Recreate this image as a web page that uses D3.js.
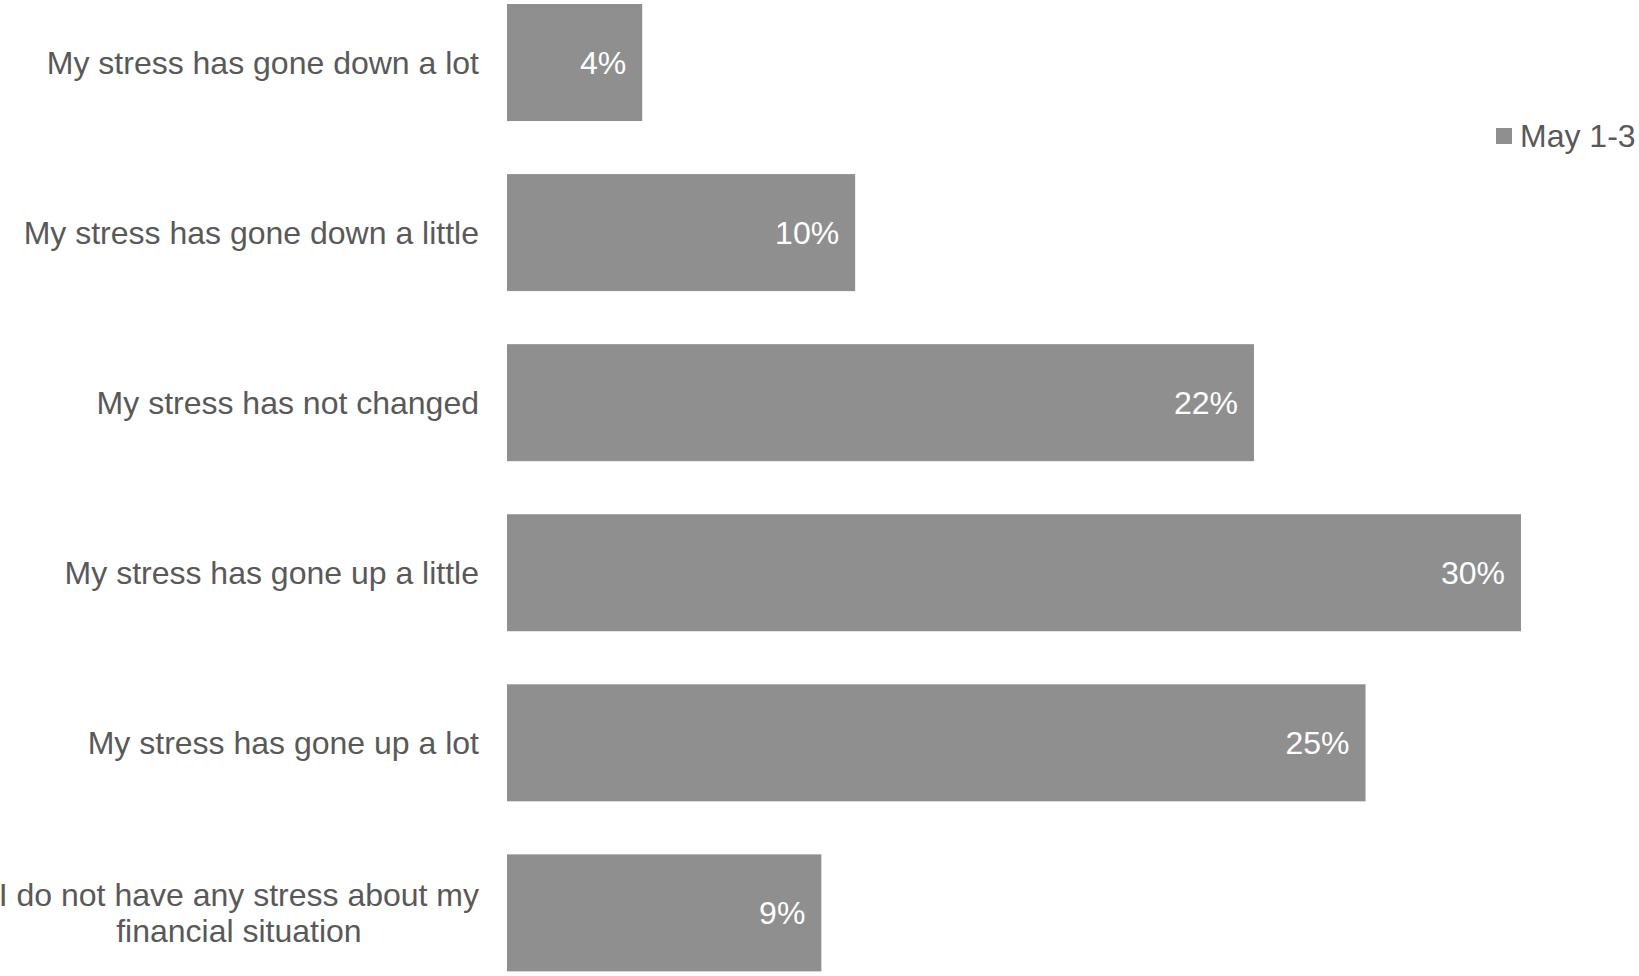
<!DOCTYPE html>
<html>
<head>
<meta charset="utf-8">
<script src="https://cdn.jsdelivr.net/npm/d3@7"></script>
<style>
  html, body { margin: 0; padding: 0; background: #ffffff; }
  svg { display: block; }
  text { font-family: "Liberation Sans", Arial, Helvetica, sans-serif; }
</style>
</head>
<body>
<svg id="chart" width="1639" height="976"></svg>
<script>
// ---- data ----
const categories = [
  "My stress has gone down a lot",
  "My stress has gone down a little",
  "My stress has not changed",
  "My stress has gone up a little",
  "My stress has gone up a lot",
  "I do not have any stress about my financial situation"
];
const categoryLines = [
  ["My stress has gone down a lot"],
  ["My stress has gone down a little"],
  ["My stress has not changed"],
  ["My stress has gone up a little"],
  ["My stress has gone up a lot"],
  ["I do not have any stress about my", "financial situation"]
];
const values = [0.040, 0.103, 0.221, 0.300, 0.254, 0.093];
const seriesName = "May 1-3";

// ---- layout ----
const svg = d3.select("#chart");
const barColor = "#8f8f8f";
const textColor = "#595959";
const fontSize = 32;

const x = d3.scaleLinear().domain([0, 0.30]).range([507, 1521]);
const y = d3.scaleBand()
  .domain(categories)
  .range([-22.5, 997.9])
  .paddingInner(0.312)
  .paddingOuter(0.156);

const fmt = d3.format(".0%");
const data = categories.map((c, i) => ({ c, v: values[i], lines: categoryLines[i] }));

// bars
svg.append("g").selectAll("rect")
  .data(data)
  .join("rect")
  .attr("x", x(0))
  .attr("y", d => y(d.c))
  .attr("width", d => x(d.v) - x(0))
  .attr("height", y.bandwidth())
  .attr("fill", barColor);

// value labels
svg.append("g").selectAll("text")
  .data(data)
  .join("text")
  .attr("x", d => x(d.v) - 16)
  .attr("y", d => y(d.c) + y.bandwidth() / 2 + fontSize * 0.358)
  .attr("text-anchor", "end")
  .attr("fill", "#ffffff")
  .attr("font-size", fontSize)
  .text(d => fmt(d.v));

// category labels (right-aligned block, lines centered within block)
const catG = svg.append("g");
data.forEach(d => {
  const cy = y(d.c) + y.bandwidth() / 2;
  const lineH = 36;
  const n = d.lines.length;
  const t = catG.append("text")
    .attr("fill", textColor)
    .attr("font-size", fontSize);
  if (n === 1) {
    t.attr("x", 479).attr("y", cy + fontSize * 0.358).attr("text-anchor", "end").text(d.lines[0]);
  } else {
    // measure widest line for centring
    const tmp = catG.append("text").attr("font-size", fontSize).text(d.lines[0]);
    let maxW = 0;
    d.lines.forEach(l => { tmp.text(l); maxW = Math.max(maxW, tmp.node().getComputedTextLength()); });
    tmp.remove();
    const centerX = 479 - maxW / 2;
    t.attr("text-anchor", "middle");
    d.lines.forEach((l, i) => {
      t.append("tspan")
        .attr("x", centerX)
        .attr("y", cy + fontSize * 0.358 + (i - (n - 1) / 2) * lineH)
        .text(l);
    });
  }
});

// legend
const lg = svg.append("g").attr("transform", "translate(1496,128)");
lg.append("rect").attr("width", 16).attr("height", 16).attr("fill", barColor);
lg.append("text")
  .attr("x", 24)
  .attr("y", 8 + fontSize * 0.358)
  .attr("fill", textColor)
  .attr("font-size", fontSize)
  .text(seriesName);
</script>
</body>
</html>
